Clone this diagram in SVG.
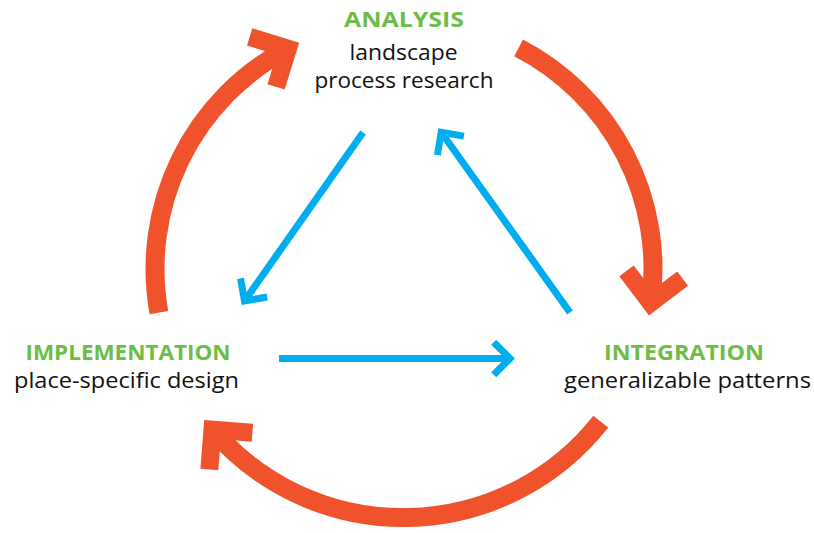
<svg xmlns="http://www.w3.org/2000/svg" width="814" height="533" viewBox="0 0 814 533">
  <style>
    .cycle { fill: none; stroke: #F0522C; stroke-width: 19; stroke-linecap: butt; marker-end: url(#headOrange); }
    .flow { fill: none; stroke: #00AEEF; stroke-width: 7; stroke-linecap: butt; marker-end: url(#headBlue); }
    .title { font-family: "Open Sans", "Noto Sans", sans-serif; font-weight: 700; font-size: 21px; fill: #6CBD45; text-anchor: middle; }
    .sub { font-family: "Open Sans", "Noto Sans", sans-serif; font-weight: 400; font-size: 22px; fill: #111111; text-anchor: middle; }
  </style>
  <defs>
    <marker id="headOrange" markerUnits="userSpaceOnUse" orient="auto" refX="0" refY="0" markerWidth="90" markerHeight="90" viewBox="-45 -45 90 90" overflow="visible">
      <path d="M-28.3,-28.3 L0,0 L-28.3,28.3" fill="none" stroke="#F0522C" stroke-width="18" stroke-linejoin="miter" stroke-miterlimit="4"/>
    </marker>
    <marker id="headBlue" markerUnits="userSpaceOnUse" orient="auto" refX="0" refY="0" markerWidth="40" markerHeight="40" viewBox="-20 -20 40 40" overflow="visible">
      <path d="M-16.3,-16.3 L0,0 L-16.3,16.3" fill="none" stroke="#00AEEF" stroke-width="7" stroke-linejoin="miter" stroke-miterlimit="4"/>
    </marker>
  </defs>

  <!-- connectors: outer cycle (orange) and inner triangle (blue) -->
  <g id="connectors">
    <path class="cycle" d="M518.6,47.9 A249,249 0 0 1 650.7,302.8"/>
    <path class="cycle" d="M600.8,421.6 A251,251 0 0 1 212.5,429.6"/>
    <path class="cycle" d="M158.9,312.7 A249,249 0 0 1 287.9,48.7"/>
    <path class="flow" d="M363,132.5 L244.5,301"/>
    <path class="flow" d="M279,358.5 L510,358.5"/>
    <path class="flow" d="M570,312.5 L441.2,132.3"/>
  </g>

  <g id="analysis">
    <text class="title" x="404" y="27" textLength="120" lengthAdjust="spacingAndGlyphs">ANALYSIS</text>
    <text class="sub" x="403.5" y="59.5" textLength="108" lengthAdjust="spacingAndGlyphs">landscape</text>
    <text class="sub" x="404" y="87.5" textLength="179" lengthAdjust="spacingAndGlyphs">process research</text>
  </g>

  <g id="implementation">
    <text class="title" x="128" y="360" textLength="205" lengthAdjust="spacingAndGlyphs">IMPLEMENTATION</text>
    <text class="sub" x="126.5" y="388" textLength="225" lengthAdjust="spacingAndGlyphs">place-specific design</text>
  </g>

  <g id="integration">
    <text class="title" x="684" y="360" textLength="160" lengthAdjust="spacingAndGlyphs">INTEGRATION</text>
    <text class="sub" x="687.5" y="388" textLength="247" lengthAdjust="spacingAndGlyphs">generalizable patterns</text>
  </g>
</svg>
